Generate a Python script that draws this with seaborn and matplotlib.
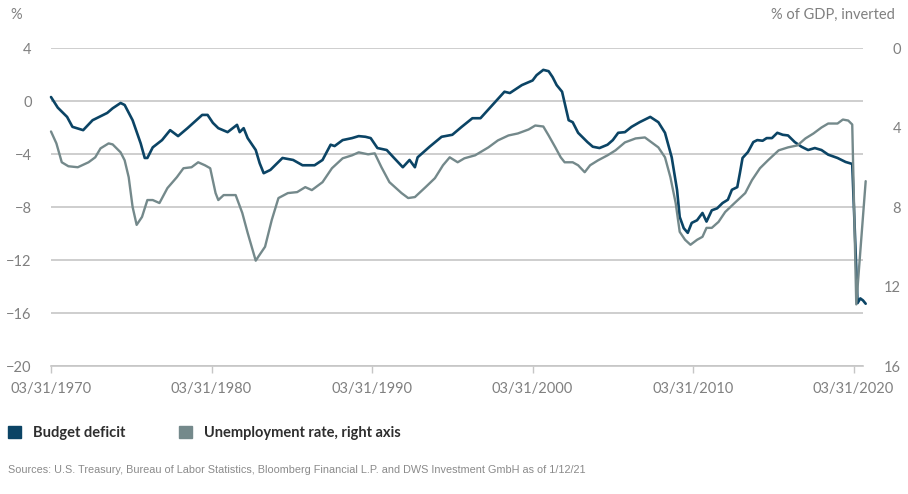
import matplotlib
matplotlib.use("Agg")
import matplotlib.pyplot as plt
import matplotlib.patches as mpatches
import pandas as pd
import seaborn as sns

# ---- data ----
deficit_dates = [
    "1970-03-31", "1970-09", "1971-04", "1971-08", "1972-04", "1972-11", "1973-10", "1974-02",
    "1974-08", "1974-11", "1975-05", "1975-11", "1976-02", "1976-04", "1976-08", "1977-03",
    "1977-09", "1978-03", "1978-10", "1979-09", "1980-01", "1980-05", "1980-09", "1981-04",
    "1981-11", "1982-01", "1982-04", "1982-07", "1983-01", "1983-04", "1983-07", "1983-12",
    "1984-09", "1985-05", "1985-12", "1986-09", "1987-03", "1987-09", "1987-12", "1988-06",
    "1989-01", "1989-06", "1989-11", "1990-03", "1990-08", "1991-03", "1991-08", "1992-03",
    "1992-08", "1992-12", "1993-02", "1993-11", "1994-08", "1995-04", "1995-11", "1996-07",
    "1997-01", "1997-10", "1998-07", "1998-11", "1999-08", "2000-04", "2000-07", "2000-12",
    "2001-04", "2001-07", "2001-10", "2002-02", "2002-04", "2002-07", "2002-10", "2003-02",
    "2003-09", "2004-01", "2004-06", "2004-12", "2005-04", "2005-08", "2006-01", "2006-06",
    "2006-12", "2007-08", "2008-02", "2008-07", "2008-12", "2009-04", "2009-06", "2009-09",
    "2009-12", "2010-03", "2010-07", "2010-11", "2011-02", "2011-06", "2011-10", "2012-02",
    "2012-06", "2012-09", "2013-01", "2013-03", "2013-05", "2013-09", "2014-01", "2014-04",
    "2014-08", "2014-11", "2015-03", "2015-07", "2015-11", "2016-03", "2016-08", "2017-01",
    "2017-06", "2017-11", "2018-04", "2018-09", "2019-04", "2019-10", "2020-03", "2020-07",
    "2020-09", "2020-11", "2021-01",
]
deficit_values = [
    0.3, -0.5, -1.2, -1.95, -2.2, -1.45, -0.9, -0.55,
    -0.15, -0.3, -1.45, -3.2, -4.3, -4.3, -3.5, -2.95,
    -2.2, -2.65, -2.05, -1.05, -1.05, -1.65, -2.05, -2.35,
    -1.8, -2.35, -2.05, -2.8, -3.7, -4.7, -5.45, -5.2,
    -4.3, -4.45, -4.85, -4.85, -4.45, -3.3, -3.4, -2.95,
    -2.8, -2.65, -2.7, -2.8, -3.55, -3.7, -4.25, -5.0,
    -4.45, -5.0, -4.25, -3.45, -2.7, -2.55, -1.95, -1.3,
    -1.3, -0.3, 0.7, 0.6, 1.2, 1.55, 1.95, 2.35,
    2.25, 1.8, 1.2, 0.7, -0.15, -1.45, -1.6, -2.4,
    -3.1, -3.45, -3.55, -3.3, -2.95, -2.4, -2.35, -1.95,
    -1.6, -1.2, -1.6, -2.4, -4.25, -6.7, -8.75, -9.6,
    -9.95, -9.2, -9.0, -8.45, -9.1, -8.25, -8.1, -7.7,
    -7.45, -6.7, -6.5, -5.45, -4.3, -3.85, -3.1, -2.95,
    -3.0, -2.8, -2.8, -2.4, -2.55, -2.6, -3.1, -3.45,
    -3.7, -3.55, -3.7, -4.05, -4.3, -4.6, -4.75, -15.25,
    -14.9, -15.05, -15.3,
]

unemployment_dates = [
    "1970-03-31", "1970-08", "1970-12", "1971-05", "1971-12", "1972-08", "1973-01", "1973-05",
    "1973-11", "1974-02", "1974-08", "1974-11", "1975-02", "1975-05", "1975-08", "1975-12",
    "1976-04", "1976-08", "1977-01", "1977-07", "1978-02", "1978-07", "1979-01", "1979-06",
    "1979-11", "1980-03", "1980-07", "1980-09", "1981-01", "1981-10", "1982-03", "1982-07",
    "1983-01", "1983-03", "1983-08", "1984-01", "1984-06", "1985-01", "1985-08", "1986-02",
    "1986-07", "1987-03", "1987-10", "1988-06", "1989-01", "1989-06", "1990-01", "1990-06",
    "1990-11", "1991-05", "1992-02", "1992-07", "1992-12", "1993-08", "1994-03", "1994-09",
    "1995-02", "1995-08", "1996-01", "1996-09", "1997-07", "1998-02", "1998-10", "1999-05",
    "2000-01", "2000-06", "2000-12", "2001-04", "2001-09", "2002-01", "2002-04", "2002-10",
    "2003-02", "2003-07", "2003-11", "2004-05", "2004-12", "2005-06", "2006-01", "2006-09",
    "2007-04", "2007-09", "2008-02", "2008-07", "2008-11", "2009-03", "2009-06", "2009-10",
    "2010-02", "2010-07", "2010-11", "2011-02", "2011-06", "2011-11", "2012-04", "2012-11",
    "2013-07", "2013-12", "2014-06", "2014-12", "2015-08", "2016-03", "2016-10", "2017-04",
    "2017-10", "2018-04", "2018-09", "2019-04", "2019-08", "2019-12", "2020-03", "2020-06",
    "2021-01",
]
unemployment_values = [
    4.2, 4.8, 5.75, 5.95, 6.0, 5.75, 5.5, 5.05,
    4.8, 4.85, 5.25, 5.65, 6.5, 8.0, 8.9, 8.5,
    7.65, 7.65, 7.8, 7.05, 6.5, 6.05, 6.0, 5.75,
    5.9, 6.05, 7.3, 7.65, 7.4, 7.4, 8.3, 9.3,
    10.7, 10.5, 10.0, 8.65, 7.55, 7.3, 7.25, 7.0,
    7.15, 6.75, 6.05, 5.55, 5.4, 5.25, 5.35, 5.3,
    6.0, 6.75, 7.3, 7.55, 7.5, 7.0, 6.55, 5.9,
    5.5, 5.75, 5.55, 5.4, 5.0, 4.65, 4.4, 4.3,
    4.1, 3.9, 3.95, 4.4, 5.0, 5.5, 5.75, 5.75,
    5.9, 6.25, 5.9, 5.65, 5.4, 5.15, 4.75, 4.55,
    4.5, 4.75, 5.0, 5.5, 6.5, 7.8, 9.25, 9.65,
    9.9, 9.65, 9.5, 9.05, 9.05, 8.75, 8.25, 7.8,
    7.3, 6.65, 6.05, 5.65, 5.15, 5.0, 4.9, 4.55,
    4.3, 4.0, 3.8, 3.8, 3.6, 3.65, 3.85, 12.9,
    6.7,
]

left_ticks = [4, 0, -4, -8, -12, -16, -20]
right_ticks = [0, 4, 8, 12, 16]
x_tick_dates = ["1970-03-31", "1980-03-31", "1990-03-31", "2000-03-31", "2010-03-31", "2020-03-31"]
x_tick_labels = ["03/31/1970", "03/31/1980", "03/31/1990", "03/31/2000", "03/31/2010", "03/31/2020"]

BLUE = "#0b4465"
GRAY = "#74898b"
GRID = "#c6c6c6"
TEXT = "#808080"

sns.set_theme(style="white")
plt.rcParams["font.family"] = ["Lato", "DejaVu Sans"]

df_def = pd.DataFrame({"date": pd.to_datetime(deficit_dates, format="ISO8601"), "value": deficit_values})
df_une = pd.DataFrame({"date": pd.to_datetime(unemployment_dates, format="ISO8601"), "value": unemployment_values})

fig = plt.figure(figsize=(9.08, 4.94), dpi=100)
ax = fig.add_axes([51 / 908, 1 - 366 / 494, 812 / 908, 318 / 494])
ax2 = ax.twinx()

sns.lineplot(data=df_def, x="date", y="value", ax=ax, color=BLUE, linewidth=1.9, clip_on=False)
sns.lineplot(data=df_une, x="date", y="value", ax=ax2, color=GRAY, linewidth=1.7, clip_on=False)

ax.set_xlim(pd.Timestamp("1970-03-31"), pd.Timestamp("2020-11-01"))
ax.set_ylim(-20, 4)
ax2.set_ylim(16, 0)

ax.set_yticks(left_ticks)
ax.set_yticklabels([str(t).replace("-", "\u2212") for t in left_ticks])
ax2.set_yticks(right_ticks)
ax2.set_yticklabels([str(t) for t in right_ticks])

ax.set_xticks(pd.to_datetime(x_tick_dates))
ax.set_xticklabels(x_tick_labels)

ax.grid(axis="y", color=GRID, linewidth=1.2)
ax.grid(axis="x", visible=False)
ax2.grid(False)

for a in (ax, ax2):
    for s in a.spines.values():
        s.set_visible(False)
    a.set_xlabel("")
    a.set_ylabel("")
ax.spines["bottom"].set_visible(True)
ax.spines["bottom"].set_color(GRID)
ax.spines["bottom"].set_linewidth(1.2)

ax.tick_params(axis="y", length=0, pad=14, labelsize=10.5, labelcolor=TEXT)
ax.tick_params(axis="x", direction="out", length=5, width=1, color=GRID, pad=6.5,
               labelsize=10.5, labelcolor=TEXT, bottom=True)
ax2.tick_params(axis="y", length=0, pad=27.5, labelsize=10.5, labelcolor=TEXT)
for lbl in ax2.get_yticklabels():
    lbl.set_horizontalalignment("right")

fig.text(10 / 908, 1 - 15 / 494, "%", fontsize=10.5, color=TEXT, va="center", ha="left")
fig.text(895 / 908, 1 - 15 / 494, "% of GDP, inverted", fontsize=10.5, color=TEXT,
         va="center", ha="right")

handles = [mpatches.Patch(color=BLUE, label="Budget deficit"),
           mpatches.Patch(color=GRAY, label="Unemployment rate, right axis")]
fig.legend(handles=handles, loc="center left", bbox_to_anchor=(8 / 908, 1 - 433 / 494),
           ncol=2, frameon=False, handlelength=0.9, handleheight=0.9,
           handletextpad=0.8, columnspacing=3.7, borderpad=0, borderaxespad=0,
           prop={"weight": "bold", "size": 10.5})
for t in fig.legends[0].get_texts():
    t.set_color("#2e2e2e")

fig.text(8 / 908, 1 - 470 / 494,
         "Sources: U.S. Treasury, Bureau of Labor Statistics, Bloomberg Financial L.P. and DWS Investment GmbH as of 1/12/21",
         fontsize=7.8, color="#8a8a8a", va="center", ha="left", family=["Liberation Sans", "DejaVu Sans"])

fig.savefig("out.png", dpi=100)
